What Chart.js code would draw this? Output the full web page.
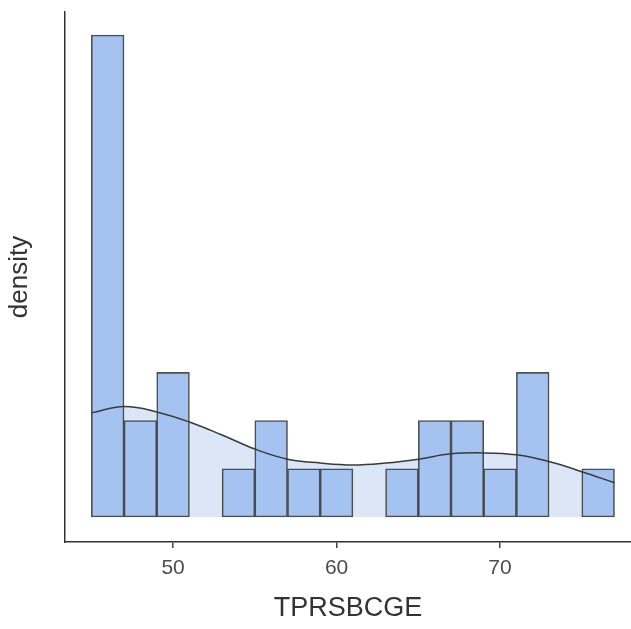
<!DOCTYPE html>
<html>
<head>
<meta charset="utf-8">
<script src="https://cdn.jsdelivr.net/npm/chart.js@4/dist/chart.umd.min.js"></script>
<style>
  html, body { margin: 0; padding: 0; background: #fff; }
  #wrap { width: 631px; height: 629px; }
</style>
</head>
<body>
<div id="wrap"><canvas id="hist"></canvas></div>
<script>
// histogram bins (width 2), centre of each bin and its count
const binCenters = [46, 48, 50, 52, 54, 56, 58, 60, 62, 64, 66, 68, 70, 72, 74, 76];
const binCounts = [10, 2, 3, 0, 1, 2, 1, 1, 0, 1, 2, 2, 1, 3, 0, 1];

// density curve (scaled to counts)
const densX = [45, 47, 49, 51, 53, 55, 57, 59, 61, 63, 65, 67, 69, 71, 73, 75, 77];
const densY = [2.16, 2.29, 2.18, 1.97, 1.70, 1.41, 1.20, 1.12, 1.08, 1.12, 1.20, 1.31, 1.33, 1.29, 1.15, 0.94, 0.71];

const xTicks = [50, 60, 70];

const bars = binCenters.map((x, i) => ({ x: x, y: binCounts[i] > 0 ? binCounts[i] : null }));
const dens = densX.map((x, i) => ({ x: x, y: densY[i] }));

const ctx = document.getElementById('hist').getContext('2d');
new Chart(ctx, {
  data: {
    datasets: [
      {
        type: 'line',
        data: dens,
        fill: 'origin',
        backgroundColor: '#dbe6f7',
        borderWidth: 0,
        pointRadius: 0,
        tension: 0.4,
        order: 3
      },
      {
        type: 'bar',
        data: bars,
        backgroundColor: '#a5c3f0',
        borderColor: 'rgba(60, 60, 60, 0.9)',
        borderWidth: 1.6,
        borderSkipped: false,
        categoryPercentage: 1,
        barPercentage: 1,
        order: 2
      },
      {
        type: 'line',
        data: dens,
        fill: false,
        borderColor: '#3a3a3a',
        borderWidth: 1.5,
        pointRadius: 0,
        tension: 0.4,
        order: 1
      }
    ]
  },
  options: {
    responsive: true,
    maintainAspectRatio: false,
    animation: false,
    layout: { padding: { top: 12, right: 0, left: 0, bottom: 0 } },
    plugins: {
      legend: { display: false },
      tooltip: { enabled: false }
    },
    scales: {
      x: {
        type: 'linear',
        offset: false,
        min: 43.39,
        max: 78.01,
        afterBuildTicks: (axis) => { axis.ticks = xTicks.map(v => ({ value: v })); },
        afterFit: (axis) => { axis.height = 87; },
        grid: { display: true, offset: false, drawOnChartArea: false, drawTicks: true, tickLength: 6, color: '#444', lineWidth: 1.5 },
        border: { display: true, color: '#333', width: 1.5 },
        ticks: { color: '#4d4d4d', font: { family: 'Liberation Sans, Arial', size: 21 }, padding: 8, maxRotation: 0 },
        title: { display: true, text: 'TPRSBCGE', color: '#333', font: { family: 'Liberation Sans, Arial', size: 27 }, padding: { top: 12 } }
      },
      y: {
        min: -0.519,
        max: 10.477,
        afterFit: (axis) => { axis.width = 65; },
        grid: { display: false },
        border: { display: true, color: '#333', width: 1.5 },
        ticks: { display: false },
        title: { display: true, text: 'density', color: '#333', font: { family: 'Liberation Sans, Arial', size: 26 }, padding: { bottom: 6 } }
      }
    }
  }
});
</script>
</body>
</html>
